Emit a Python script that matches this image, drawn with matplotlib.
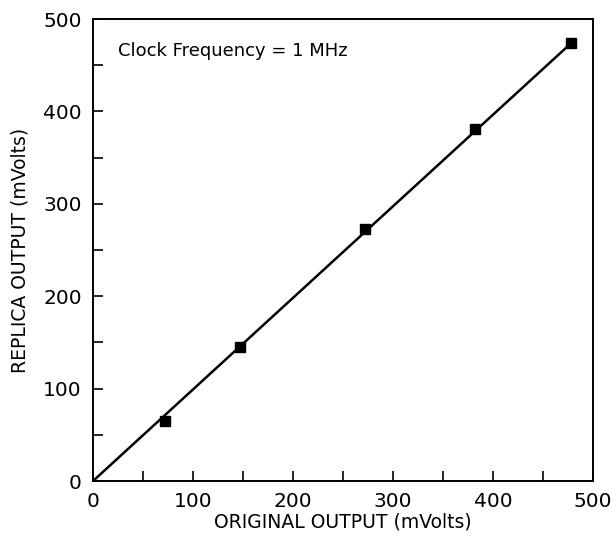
import matplotlib
matplotlib.use("Agg")
import matplotlib.pyplot as plt
from matplotlib.ticker import MultipleLocator

# data
original_mv = [72, 147, 272, 382, 478]
replica_mv = [65, 145, 273, 381, 474]
fit_x = [0, 480]
fit_y = [0, 476]
ticks = [0, 100, 200, 300, 400, 500]

plt.rcParams['font.family'] = ['DejaVu Sans']
fig = plt.figure(figsize=(6.16, 5.39), dpi=100)
ax = fig.add_axes([0.151, 0.1076, 0.812, 0.857])
ax.plot(fit_x, fit_y, color='black', lw=1.8)
ax.plot(original_mv, replica_mv, 's', color='black', ms=7)
ax.set_xlim(0, 500)
ax.set_ylim(0, 500)
ax.set_xticks(ticks)
ax.set_yticks(ticks)
ax.xaxis.set_minor_locator(MultipleLocator(50))
ax.yaxis.set_minor_locator(MultipleLocator(50))
ax.tick_params(which='both', direction='in', top=False, right=False, labelsize=14.5, width=1.2)
ax.tick_params(which='major', length=7, pad=8)
ax.tick_params(which='minor', length=7)
for s in ax.spines.values():
    s.set_linewidth(1.4)
ax.set_xlabel('ORIGINAL OUTPUT (mVolts)', fontsize=13.5, labelpad=1)
ax.set_ylabel('REPLICA OUTPUT (mVolts)', fontsize=13.5, labelpad=10)
ax.text(0.05, 0.93, 'Clock Frequency = 1 MHz', transform=ax.transAxes, fontsize=13, va='center')
fig.savefig('out.png', dpi=100)
